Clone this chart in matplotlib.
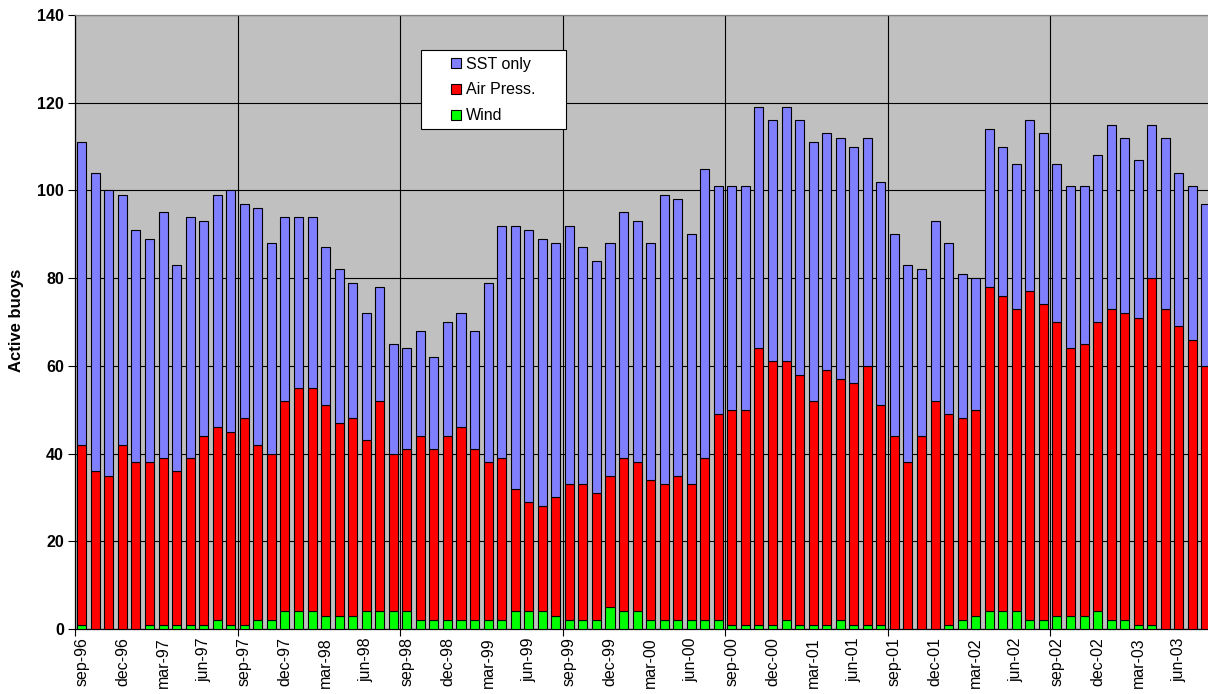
import matplotlib
matplotlib.use("Agg")
import matplotlib.pyplot as plt
from matplotlib.patches import Rectangle
import numpy as np

plt.rcParams['font.family'] = ['Liberation Sans', 'DejaVu Sans']

# Monthly active buoys, sep-96 .. aug-03 (stacked segments)
wind = [1, 0, 0, 0, 0, 1, 1, 1, 1, 1, 2, 1, 1, 2, 2, 4, 4, 4, 3, 3, 3,
        4, 4, 4, 4, 2, 2, 2, 2, 2, 2, 2, 4, 4, 4, 3, 2, 2, 2, 5, 4, 4,
        2, 2, 2, 2, 2, 2, 1, 1, 1, 1, 2, 1, 1, 1, 2, 1, 1, 1, 0, 0,
        0, 0, 1, 2, 3, 4, 4, 4, 2, 2, 3, 3, 3, 4, 2, 2, 1, 1, 0, 0, 0, 0]
air_press = [41, 36, 35, 42, 38, 37, 38, 35, 38, 43, 44, 44, 47, 40, 38, 48, 51, 51, 48, 44, 45,
             39, 48, 36, 37, 42, 39, 42, 44, 39, 36, 37, 28, 25, 24, 27, 31, 31, 29, 30, 35, 34,
             32, 31, 33, 31, 37, 47, 49, 49, 63, 60, 59, 57, 51, 58, 55, 55, 59, 50, 44, 38,
             44, 52, 48, 46, 47, 74, 72, 69, 75, 72, 67, 61, 62, 66, 71, 70, 70, 79, 73, 69, 66, 60]
sst_only = [69, 68, 65, 57, 53, 51, 56, 47, 55, 49, 53, 55, 49, 54, 48, 42, 39, 39, 36, 35, 31,
            29, 26, 25, 23, 24, 21, 26, 26, 27, 41, 53, 60, 62, 61, 58, 59, 54, 53, 53, 56, 55,
            54, 66, 63, 57, 66, 52, 51, 51, 55, 55, 58, 58, 59, 54, 55, 54, 52, 51, 46, 45,
            38, 41, 39, 33, 30, 36, 34, 33, 39, 39, 36, 37, 36, 38, 42, 40, 36, 35, 39, 35, 35, 37]

tick_labels = ["sep-96", "dec-96", "mar-97", "jun-97", "sep-97", "dec-97", "mar-98",
               "jun-98", "sep-98", "dec-98", "mar-99", "jun-99", "sep-99", "dec-99",
               "mar-00", "jun-00", "sep-00", "dec-00", "mar-01", "jun-01", "sep-01",
               "dec-01", "mar-02", "jun-02", "sep-02", "dec-02", "mar-03", "jun-03"]

series_names = ["Wind", "Air Press.", "SST only"]
colors = ["#00FF00", "#FF0000", "#8080FF"]

W, H = 1208, 694
fig = plt.figure(figsize=(W / 100, H / 100), dpi=100)
fig.patch.set_facecolor("white")
ax_left, ax_right, ax_top, ax_bottom = 75, 1212.7, 15, 629
ax = fig.add_axes([ax_left / W, 1 - ax_bottom / H, (ax_right - ax_left) / W, (ax_bottom - ax_top) / H])
ax.set_facecolor("#C0C0C0")

n = len(wind)
x = np.arange(n)
w_arr = np.array(wind)
a_arr = np.array(air_press)
s_arr = np.array(sst_only)
bw = 0.667
b1 = ax.bar(x, w_arr, width=bw, color=colors[0], edgecolor="black", linewidth=0.8, zorder=3)
b2 = ax.bar(x, a_arr, width=bw, bottom=w_arr, color=colors[1], edgecolor="black", linewidth=0.8, zorder=3)
b3 = ax.bar(x, s_arr, width=bw, bottom=w_arr + a_arr, color=colors[2], edgecolor="black", linewidth=0.8, zorder=3)

ax.set_xlim(-0.5, n - 0.5)
ax.set_ylim(0, 140)
ax.set_yticks(np.arange(0, 141, 20))
ax.tick_params(axis="y", direction="out", length=5, width=0.8, labelsize=11.5, pad=3)
for lab in ax.get_yticklabels():
    lab.set_fontweight("bold")

ax.set_xticks(np.arange(0, n, 3)[:len(tick_labels)])
ax.set_xticklabels(tick_labels, rotation=90, fontsize=11.5)
ax.tick_params(axis="x", which="major", length=0, pad=6)
ax.set_xticks(np.arange(-0.5, n, 12), minor=True)
ax.tick_params(axis="x", which="minor", direction="out", length=5, width=0.8)

ax.grid(axis="y", which="major", color="black", linewidth=0.8, zorder=1)
ax.grid(axis="x", which="minor", color="black", linewidth=0.8, zorder=1)
ax.grid(axis="x", which="major", visible=False)
ax.set_axisbelow(True)

for side in ["left", "bottom"]:
    ax.spines[side].set_color("black")
    ax.spines[side].set_linewidth(0.9)
ax.spines["top"].set_color("#808080")
ax.spines["top"].set_linewidth(0.9)
ax.spines["right"].set_visible(False)

aw = ax_right - ax_left
ah = ax_bottom - ax_top

ax.set_ylabel("Active buoys", fontsize=12, fontweight="bold")
ax.yaxis.set_label_coords((24 - ax_left) / aw, (ax_bottom - 320.5) / ah)

# legend box
lx0, lx1, ly0, ly1 = 421, 566, 50, 129
ax.add_patch(Rectangle(((lx0 - ax_left) / aw, (ax_bottom - ly1) / ah),
                       (lx1 - lx0) / aw, (ly1 - ly0) / ah,
                       transform=ax.transAxes, facecolor="white", edgecolor="black",
                       linewidth=0.8, zorder=5))
leg = ax.legend([b3, b2, b1], ["SST only", "Air Press.", "Wind"],
                loc="upper left", bbox_to_anchor=((451 - ax_left) / aw, (ax_bottom - 56.5) / ah),
                frameon=False, fontsize=11.5, borderpad=0, borderaxespad=0,
                handlelength=0.6, handleheight=0.6, handletextpad=0.35, labelspacing=0.68)
leg.set_zorder(6)

fig.savefig("out.png", dpi=100)
